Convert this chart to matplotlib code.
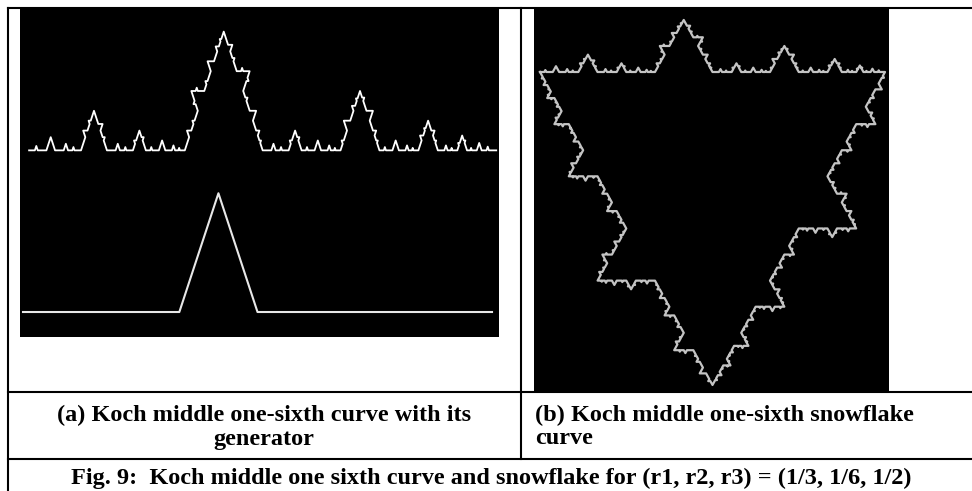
import matplotlib

matplotlib.use("Agg")

import numpy as np
import matplotlib.pyplot as plt

# generator: flat 1/3, small peak over the 1/6, flat 1/2
GEN_X = [0.0, 1 / 3, 5 / 12, 1 / 2, 1.0]
GEN_Y = [0.0, 0.0, 0.144, 0.0, 0.0]
MIN_SEG = 0.02

# snowflake corners (top-left, top-right, bottom), walked clockwise
SNOW_X = [0.0, 1.0, 0.5, 0.0]
SNOW_Y = [0.0, 0.0, -0.866, 0.0]

CAPTION_A = ["(a) Koch middle one-sixth curve with its", "generator"]
CAPTION_B = ["(b) Koch middle one-sixth snowflake", "curve"]
FIG_TITLE = "Fig. 9:  Koch middle one sixth curve and snowflake for (r1, r2, r3) = (1/3, 1/6, 1/2)"

W, H = 972, 491
FONT = dict(family=["Liberation Serif", "DejaVu Serif"], fontweight="bold", fontsize=17.5)


def koch(a, b, gen):
    if abs(b - a) < MIN_SEG:
        return [a]
    pts = a + (b - a) * gen
    out = []
    for p, q in zip(pts[:-1], pts[1:]):
        out += koch(p, q, gen)
    return out


def koch_path(a, b, gen):
    pts = np.array(koch(a, b, gen) + [b])
    return pts.real, pts.imag


def px_axes(fig, x0, y0, x1, y1):
    # axes from pixel box (top-left origin)
    ax = fig.add_axes([x0 / W, 1 - y1 / H, (x1 - x0) / W, (y1 - y0) / H])
    ax.set_xticks([])
    ax.set_yticks([])
    for s in ax.spines.values():
        s.set_visible(False)
    return ax


gen = np.array(GEN_X) + 1j * np.array(GEN_Y)

fig = plt.figure(figsize=(W / 100, H / 100), dpi=100, facecolor="white")

# table frame + captions
frame = fig.add_axes([0, 0, 1, 1], zorder=0)
frame.set_xlim(0, W)
frame.set_ylim(H, 0)
frame.axis("off")
lw = 1.5
frame.plot([8, W], [8, 8], color="black", lw=lw)
frame.plot([8, 8], [8, H], color="black", lw=lw)
frame.plot([521, 521], [8, 459], color="black", lw=lw)
frame.plot([8, W], [392, 392], color="black", lw=lw)
frame.plot([8, W], [459, 459], color="black", lw=lw)

frame.text(264, 415, CAPTION_A[0], ha="center", va="center", **FONT)
frame.text(264, 439, CAPTION_A[1], ha="center", va="center", **FONT)
frame.text(535, 415, CAPTION_B[0], ha="left", va="center", **FONT)
frame.text(535, 439, CAPTION_B[1], ha="left", va="center", **FONT)
frame.text(491, 478, FIG_TITLE, ha="center", va="center", **FONT)

# (a) curve above, generator below
ax_a = px_axes(fig, 20, 9, 499, 337)
ax_a.set_facecolor("black")
cx, cy = koch_path(0 + 0j, 1 + 0j, gen)
ax_a.plot(cx * 0.996 + 0.013, cy + 0.196, color="white", lw=1.3)
ax_a.plot(GEN_X, GEN_Y, color="#e8e8e8", lw=1.5)
ax_a.set_xlim(-0.0064, 1.0149)
ax_a.set_ylim(-0.0303, 0.3674)

# (b) snowflake
ax_b = px_axes(fig, 534, 9, 889, 392)
ax_b.set_facecolor("black")
corners = np.array(SNOW_X) + 1j * np.array(SNOW_Y)
sx, sy = [], []
for a, b in zip(corners[:-1], corners[1:]):
    x, y = koch_path(a, b, gen)
    sx += list(x)
    sy += list(y)
ax_b.plot(sx, sy, color="#c4c4c4", lw=1.6, solid_joinstyle="round")
ax_b.set_xlim(-0.0174, 1.0116)
ax_b.set_ylim(-0.8854, 0.1743)

fig.savefig("out.png", dpi=100, facecolor="white")
